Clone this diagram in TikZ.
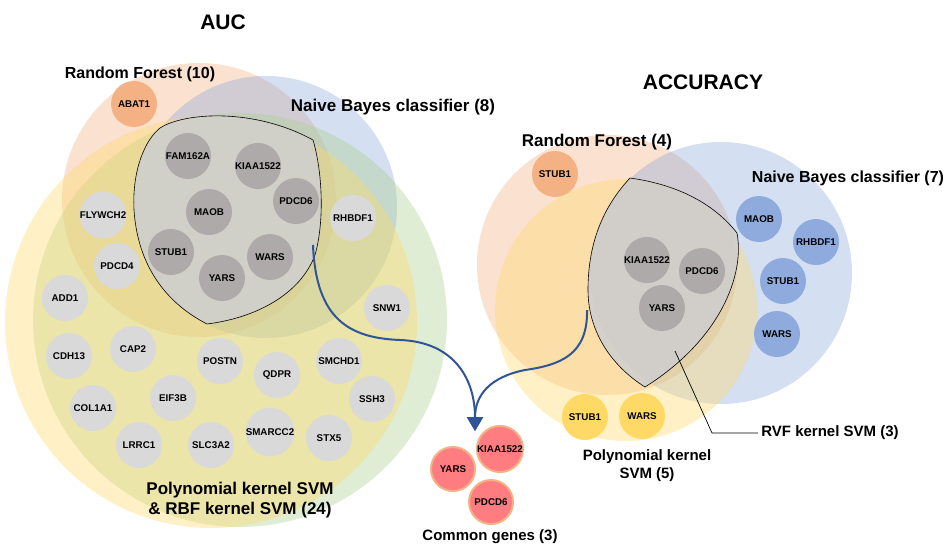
\documentclass[tikz,border=0pt]{standalone}
\usepackage{fontspec}
\setmainfont{Liberation Sans}
\usetikzlibrary{arrows.meta}
\definecolor{rfc}{HTML}{F4B183}
\definecolor{nbc}{HTML}{8FAADC}
\definecolor{pyc}{HTML}{FFD966}
\definecolor{grc}{HTML}{A9D18E}
\definecolor{lensc}{HTML}{CFCFCF}
\definecolor{dkg}{HTML}{AEAAAA}
\definecolor{ltg}{HTML}{D9D9D9}
\definecolor{redc}{HTML}{FF7C80}
\definecolor{arrc}{HTML}{2F5597}
\begin{document}
\begin{tikzpicture}[x=1pt,y=-1pt,
  set/.style={fill opacity=0.38, draw=none},
  lens/.style={fill=lensc, fill opacity=0.88, draw=black, line width=0.6pt},
  gene/.style={circle, minimum size=46pt, inner sep=0pt, font=\fontsize{9.8}{11}\selectfont\bfseries},
  dgene/.style={gene, fill=dkg},
  lgene/.style={gene, fill=ltg},
  ogene/.style={gene, fill=rfc},
  bgene/.style={gene, fill=nbc},
  ygene/.style={gene, fill=pyc},
  rgene/.style={gene, fill=redc, draw=rfc, line width=2pt, minimum size=44pt},
  title/.style={font=\fontsize{21}{25}\selectfont\bfseries},
  lab/.style={font=\fontsize{16}{19}\selectfont\bfseries, align=center},
  labL/.style={font=\fontsize{17}{20}\selectfont\bfseries, align=center},
  labS/.style={font=\fontsize{15}{18}\selectfont\bfseries, align=center},
  conn/.style={draw=arrc, line width=2pt, -{Triangle[width=16pt,length=14pt]}}
]
\useasboundingbox (0,0) rectangle (948,546);
% ---------------- AUC -----------------
\fill[set, fill=rfc] (199,200) circle (137pt);
\fill[set, fill=nbc] (266,207) circle (131pt);
\fill[set, fill=grc] (240,320) circle (207pt);
\fill[set, fill=pyc] (211,322) circle (206pt);
\path[lens] (160,128) .. controls (185,112) and (255,108) .. (313,140)
  .. controls (322,170) and (325,220) .. (315,255)
  .. controls (300,295) and (255,318) .. (207,324)
  .. controls (170,305) and (138,270) .. (134,210)
  .. controls (132,170) and (145,140) .. cycle;
\node[title] (auc) at (223,22) {AUC};
\node[lab] (rflab1) at (140,74) {Random Forest (10)};
\node[labL] (nblab1) at (393,107) {Naive Bayes classifier (8)};
\node[labL] (pylab1) at (240,500) {Polynomial kernel SVM\\\& RBF kernel SVM (24)};
\node[ogene] (abat1) at (134,104) {ABAT1};
\node[dgene] (fam) at (188,156) {FAM162A};
\node[dgene] (kiaa1) at (258,166) {KIAA1522};
\node[dgene] (pdcd61) at (296,201) {PDCD6};
\node[dgene] (maob1) at (209,212) {MAOB};
\node[dgene] (stub1a) at (171,252) {STUB1};
\node[dgene] (wars1) at (270,257) {WARS};
\node[dgene] (yars1) at (222,278) {YARS};
\node[lgene] (flywch2) at (103,215) {FLYWCH2};
\node[lgene] (pdcd4) at (117,266) {PDCD4};
\node[lgene] (rhbdf1a) at (353,218) {RHBDF1};
\node[lgene] (add1) at (65,298) {ADD1};
\node[lgene] (snw1) at (387,308) {SNW1};
\node[lgene] (cdh13) at (69,356) {CDH13};
\node[lgene] (cap2) at (133,349) {CAP2};
\node[lgene] (postn) at (220,361) {POSTN};
\node[lgene] (qdpr) at (277,375) {QDPR};
\node[lgene] (smchd1) at (339,361) {SMCHD1};
\node[lgene] (eif3b) at (173,398) {EIF3B};
\node[lgene] (ssh3) at (372,399) {SSH3};
\node[lgene] (col1a1) at (93,408) {COL1A1};
\node[lgene] (smarcc2) at (270,432) {SMARCC2};
\node[lgene] (stx5) at (329,438) {STX5};
\node[lgene] (lrrc1) at (139,445) {LRRC1};
\node[lgene] (slc3a2) at (211,445) {SLC3A2};
% ---------------- ACCURACY -----------------
\fill[set, fill=rfc] (607,265) circle (130pt);
\fill[set, fill=nbc] (721,273) circle (131pt);
\fill[set, fill=pyc] (626,310) circle (131pt);
\path[lens] (630,178) .. controls (680,185) and (715,205) .. (737,233)
  .. controls (745,275) and (720,340) .. (645,387)
  .. controls (610,365) and (588,330) .. (588,290)
  .. controls (588,240) and (605,205) .. cycle;
\node[title] (acc) at (703,82) {ACCURACY};
\node[labL] (rflab2) at (597,142) {Random Forest (4)};
\node[lab] (nblab2) at (848,178) {Naive Bayes classifier (7)};
\node[labS] (pylab2) at (647,466) {Polynomial kernel\\SVM (5)};
\node[labS] (rvflab) at (830,433) {RVF kernel SVM (3)};
\node[ogene] (stub1b) at (555,174) {STUB1};
\node[bgene] (maob2) at (759,219) {MAOB};
\node[bgene] (rhbdf1b) at (816,242) {RHBDF1};
\node[bgene] (stub1c) at (783,281) {STUB1};
\node[bgene] (wars2) at (777,334) {WARS};
\node[dgene] (kiaa2) at (647,260) {KIAA1522};
\node[dgene] (pdcd62) at (702,271) {PDCD6};
\node[dgene] (yars2) at (662,308) {YARS};
\node[ygene] (stub1d) at (585,417) {STUB1};
\node[ygene] (wars3) at (642,416) {WARS};
% leader line
\coordinate (rvfin) at (675,351);
\coordinate (rvfknee) at (712,433);
\draw[line width=0.7pt] (rvfin) -- (rvfknee) -- (rvflab.west);
% ---------------- Common genes -----------------
\node[rgene] (kiaa3) at (500,449) {KIAA1522};
\node[rgene] (yars3) at (453,469) {YARS};
\node[rgene] (pdcd63) at (491,502) {PDCD6};
\node[labS] (common) at (490,537) {Common genes (3)};
% arrows
\coordinate (a1) at (313,245);
\coordinate (a2) at (587,310);
\coordinate (tip) at (475,431);
\draw[conn] (a1) .. controls (316,320) and (350,338) .. (400,340)
  .. controls (455,342) and (475,380) .. (tip);
\draw[conn] (a2) .. controls (588,355) and (560,365) .. (525,370)
  .. controls (490,377) and (475,395) .. (tip);
\end{tikzpicture}
\end{document}
